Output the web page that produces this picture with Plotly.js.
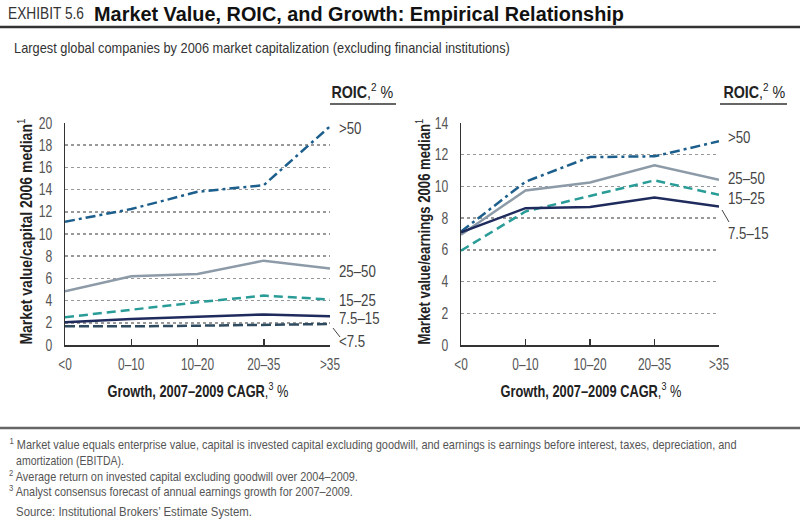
<!DOCTYPE html>
<html><head><meta charset="utf-8">
<script src="https://cdn.plot.ly/plotly-3.0.1.min.js"></script>
<style>html,body{margin:0;padding:0;background:#fff}#chart{width:800px;height:520px}</style>
</head><body><div id="chart"></div>
<script>
const growth = ["<0", "0–10", "10–20", "20–35", ">35"];
const roicLabels = [">50", "25–50", "15–25", "7.5–15", "<7.5"];
// Market value / capital
const capGt50   = [11.1, 12.25, 13.8, 14.4, 19.7];
const cap25_50  = [4.85, 6.2, 6.4, 7.6, 6.9];
const cap15_25  = [2.5, 3.2, 3.85, 4.45, 4.1];
const cap75_15  = [2.05, 2.35, 2.55, 2.75, 2.6];
const capLt75   = [1.7, 1.68, 1.74, 1.83, 1.89];
// Market value / earnings
const earnGt50  = [7.15, 10.3, 11.85, 11.9, 12.85];
const earn25_50 = [6.95, 9.75, 10.25, 11.33, 10.42];
const earn15_25 = [5.95, 8.42, 9.4, 10.38, 9.47];
const earn75_15 = [7.1, 8.63, 8.7, 9.3, 8.74];

const FONT = "'Liberation Sans',Arial,sans-serif";
const C = {gt50:"#1d5f8c", r25:"#8c9ba7", r15:"#2a9c98", r75:"#1e2b5c", lt75:"#2f4b60"};
const styles = [
  {c:C.gt50, d:"10px,4px,3px,4px", w:2.5},
  {c:C.r25, d:"solid", w:2.5},
  {c:C.r15, d:"9px,5px", w:2.5},
  {c:C.r75, d:"solid", w:2.5},
  {c:C.lt75, d:"10px,4px", w:2.5}
];
function tr(y, s, xa, ya, name){
  return {x:growth, y:y, xaxis:xa, yaxis:ya, type:"scatter", mode:"lines", name:name,
    line:{color:s.c, dash:s.d, width:s.w}, hoverinfo:"skip", showlegend:false};
}
const data = [
  tr(capGt50, styles[0], "x", "y", roicLabels[0]),
  tr(cap25_50, styles[1], "x", "y", roicLabels[1]),
  tr(cap15_25, styles[2], "x", "y", roicLabels[2]),
  tr(cap75_15, styles[3], "x", "y", roicLabels[3]),
  tr(capLt75, styles[4], "x", "y", roicLabels[4]),
  tr(earnGt50, styles[0], "x2", "y2", roicLabels[0]),
  tr(earn25_50, styles[1], "x2", "y2", roicLabels[1]),
  tr(earn15_25, styles[2], "x2", "y2", roicLabels[2]),
  tr(earn75_15, styles[3], "x2", "y2", roicLabels[3])
];
const yDom = [(520-345)/520, (520-123)/520];
function xax(dom){
  return {domain:dom, type:"category", range:[0,4], showgrid:false, zeroline:false,
    showline:true, linecolor:"#333", linewidth:1.5, ticks:"inside", ticklen:6, tickcolor:"#333", tickwidth:1.5,
    ticklabelstandoff:3, tickfont:{family:FONT, size:17, color:"#555"}, fixedrange:true};
}
function yax(max, anchor){
  return {domain:yDom, range:[0,max], dtick:2, anchor:anchor, showgrid:true, gridcolor:"#999", griddash:"dot", gridwidth:1.5,
    zeroline:false, showline:true, linecolor:"#333", linewidth:1.5, ticks:"", ticklabelstandoff:8,
    tickfont:{family:FONT, size:16, color:"#555"}, fixedrange:true};
}
const ann = [];
const fit = []; // per-annotation horizontal condensing: {w: target width} or {s: scale}
function A(o, f){ ann.push(Object.assign({showarrow:false, font:{family:FONT, size:14, color:"#444"}}, o)); fit.push(f||null); }
A({xref:"paper", yref:"paper", x:6/800, y:1-13/520, xanchor:"left", yanchor:"middle",
   text:"EXHIBIT 5.6", font:{family:FONT, size:17, color:"#333"}}, {w:76});
A({xref:"paper", yref:"paper", x:92/800, y:1-13/520, xanchor:"left", yanchor:"middle",
   text:"<b>Market Value, ROIC, and Growth: Empirical Relationship</b>", font:{family:FONT, size:21, color:"#111"}}, {w:530});
A({xref:"paper", yref:"paper", x:12/800, y:1-47/520, xanchor:"left", yanchor:"middle",
   text:"Largest global companies by 2006 market capitalization (excluding financial institutions)", font:{family:FONT, size:15, color:"#333"}}, {w:496});
A({xref:"paper", yref:"paper", x:395/800, y:1-91/520, xanchor:"right", yanchor:"middle",
   text:"<b>ROIC</b>,<sup>2</sup> %", font:{family:FONT, size:16, color:"#222"}}, {w:62});
A({xref:"paper", yref:"paper", x:787/800, y:1-91/520, xanchor:"right", yanchor:"middle",
   text:"<b>ROIC</b>,<sup>2</sup> %", font:{family:FONT, size:16, color:"#222"}}, {w:62});
A({xref:"paper", yref:"paper", x:25/800, y:(520-232)/520, textangle:-90, xanchor:"center", yanchor:"middle",
   text:"<b>Market value/capital 2006 median</b><sup>1</sup>", font:{family:FONT, size:16, color:"#222"}}, {w:226});
A({xref:"paper", yref:"paper", x:423/800, y:(520-232)/520, textangle:-90, xanchor:"center", yanchor:"middle",
   text:"<b>Market value/earnings 2006 median</b><sup>1</sup>", font:{family:FONT, size:16, color:"#222"}}, {w:226});
A({xref:"paper", yref:"paper", x:198/800, y:1-390/520, xanchor:"center", yanchor:"middle",
   text:"<b>Growth, 2007–2009 CAGR</b>,<sup>3</sup> %", font:{family:FONT, size:16, color:"#222"}}, {w:181});
A({xref:"paper", yref:"paper", x:591/800, y:1-390/520, xanchor:"center", yanchor:"middle",
   text:"<b>Growth, 2007–2009 CAGR</b>,<sup>3</sup> %", font:{family:FONT, size:16, color:"#222"}}, {w:181});
// line-end labels
const leftLab = [[roicLabels[0],19.5],[roicLabels[1],6.6],[roicLabels[2],4.0],[roicLabels[3],2.4],[roicLabels[4],0.3]];
leftLab.forEach(([t,y])=>A({xref:"x", yref:"y", x:4, y:y, xshift:7, xanchor:"left", yanchor:"middle", text:t, font:{family:FONT, size:17, color:"#444"}}, {s:0.78}));
const rightLab = [[roicLabels[0],13.1],[roicLabels[1],10.5],[roicLabels[2],9.25],[roicLabels[3],7.05]];
rightLab.forEach(([t,y])=>A({xref:"x2", yref:"y2", x:4, y:y, xshift:7, xanchor:"left", yanchor:"middle", text:t, font:{family:FONT, size:17, color:"#444"}}, {s:0.78}));
// footnotes
const FN = {family:FONT, size:13, color:"#555"};
A({xref:"paper", yref:"paper", x:7/800, y:1-444/520, xanchor:"left", yanchor:"middle", font:FN,
   text:"<sup>1</sup> Market value equals enterprise value, capital is invested capital excluding goodwill, and earnings is earnings before interest, taxes, depreciation, and"}, {w:728});
A({xref:"paper", yref:"paper", x:14/800, y:1-460/520, xanchor:"left", yanchor:"middle", font:FN, text:"amortization (EBITDA)."}, {w:108});
A({xref:"paper", yref:"paper", x:7/800, y:1-476/520, xanchor:"left", yanchor:"middle", font:FN,
   text:"<sup>2</sup> Average return on invested capital excluding goodwill over 2004–2009."}, {w:349});
A({xref:"paper", yref:"paper", x:7/800, y:1-491/520, xanchor:"left", yanchor:"middle", font:FN,
   text:"<sup>3</sup> Analyst consensus forecast of annual earnings growth for 2007–2009."}, {w:344});
A({xref:"paper", yref:"paper", x:14/800, y:1-511/520, xanchor:"left", yanchor:"middle", font:FN,
   text:"Source: Institutional Brokers’ Estimate System."}, {w:236});

const P = (px)=>1-px/520;
const shapes = [
  {type:"line", xref:"paper", yref:"paper", x0:0, x1:1, y0:P(27), y1:P(27), line:{color:"#333", width:2.5}},
  {type:"line", xref:"paper", yref:"paper", x0:0, x1:1, y0:P(428), y1:P(428), line:{color:"#666", width:2.5}},
  {type:"line", xref:"paper", yref:"paper", x0:330/800, x1:396/800, y0:P(104), y1:P(104), line:{color:"#333", width:1.5}},
  {type:"line", xref:"paper", yref:"paper", x0:720/800, x1:787/800, y0:P(104), y1:P(104), line:{color:"#333", width:1.5}},
  {type:"line", xref:"paper", yref:"paper", x0:333/800, x1:340/800, y0:P(328), y1:P(337), line:{color:"#444", width:1}},
  {type:"line", xref:"paper", yref:"paper", x0:722/800, x1:729/800, y0:P(210), y1:P(222), line:{color:"#444", width:1}}
];
const layout = {
  width:800, height:520, margin:{l:0, r:0, t:0, b:0}, paper_bgcolor:"#fff", plot_bgcolor:"#fff",
  font:{family:FONT}, showlegend:false,
  xaxis: Object.assign(xax([65/800, 330/800]), {anchor:"y"}),
  yaxis: yax(20, "x"),
  xaxis2: Object.assign(xax([461/800, 719/800]), {anchor:"y2"}),
  yaxis2: yax(14, "x2"),
  annotations: ann, shapes: shapes
};
function squeeze(t, s, mode){
  const bb = t.getBBox();
  if (!bb.width) return;
  const ax = mode === "left" ? bb.x : mode === "right" ? bb.x + bb.width : bb.x + bb.width / 2;
  const prev = t.getAttribute("transform") || "";
  t.setAttribute("transform", prev + ` translate(${ax},0) scale(${s},1) translate(${-ax},0)`);
}
Plotly.newPlot("chart", data, layout, {displayModeBar:false, staticPlot:true}).then(gd => {
  gd.querySelectorAll("g.annotation").forEach(g => {
    const i = +g.getAttribute("data-index");
    const f = fit[i];
    if (!f) return;
    const t = g.querySelector("text.annotation-text");
    if (!t) return;
    const w = t.getBBox().width;
    const s = f.w ? f.w / w : f.s;
    squeeze(t, s, ann[i].xanchor);
  });
  gd.querySelectorAll("g.xtick text, g.x2tick text").forEach(t => squeeze(t, 0.7, "center"));
  gd.querySelectorAll("g.ytick text, g.y2tick text").forEach(t => squeeze(t, 0.76, "right"));
});
</script></body></html>
